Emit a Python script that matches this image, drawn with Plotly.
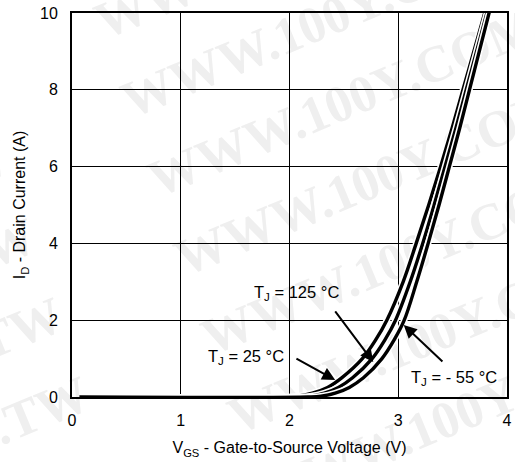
import math
import plotly.graph_objects as go

# Drain current levels (A) and the gate-source voltage (V) at each level
id_amps = [0, 0, 0.02, 0.1, 0.25, 0.5, 1.0, 1.5, 2.0, 3.0, 4.0, 5.0, 6.0, 7.0, 8.0, 9.0, 10.0, 10.5]
vgs_125 = [0.07, 1.95, 2.07, 2.21, 2.35, 2.48, 2.67, 2.795, 2.895, 3.045, 3.165, 3.28, 3.39, 3.495, 3.595, 3.695, 3.795, 3.845]
vgs_25 = [0.07, 2.07, 2.19, 2.32, 2.45, 2.58, 2.76, 2.88, 2.975, 3.11, 3.225, 3.33, 3.43, 3.53, 3.625, 3.72, 3.815, 3.86]
vgs_m55 = [0.07, 2.17, 2.29, 2.42, 2.55, 2.68, 2.85, 2.965, 3.055, 3.17, 3.275, 3.375, 3.47, 3.565, 3.655, 3.745, 3.835, 3.88]

x_ticks = [0, 1, 2, 3, 4]
y_ticks = [0, 2, 4, 6, 8, 10]

# Curve labels: text position, arrow tail and arrow tip (V, A)
labels = ["T<sub>J</sub> = 125 °C", "T<sub>J</sub> = 25 °C", "T<sub>J</sub> = - 55 °C"]
label_x = [2.06, 1.6, 3.51]
label_y = [2.72, 1.05, 0.5]
tail_x = [2.41, 2.05, 3.42]
tail_y = [2.27, 1.02, 0.89]
tip_x = [2.77, 2.42, 3.05]
tip_y = [0.91, 0.44, 1.875]

FONT = "Liberation Sans, Arial, Helvetica, sans-serif"
W, H = 515, 462
ML, MR, MT, MB = 72, 3, 13, 65

fig = go.Figure()

for vgs in (vgs_125, vgs_25, vgs_m55):
    # white halo keeps the three neighbouring curves visually separate
    fig.add_trace(go.Scatter(x=vgs, y=id_amps, mode="lines",
                             line=dict(color="white", width=6.5, shape="spline", smoothing=1.0),
                             hoverinfo="skip", showlegend=False))
    fig.add_trace(go.Scatter(x=vgs, y=id_amps, mode="lines",
                             line=dict(color="black", width=3.4, shape="spline", smoothing=1.0),
                             showlegend=False))

annotations = []
for t, lx, ly in zip(labels, label_x, label_y):
    annotations.append(dict(x=lx, y=ly, xref="x", yref="y", text=t, showarrow=False,
                            font=dict(family=FONT, size=16.5, color="black"),
                            xanchor="center", yanchor="middle"))
for ax_, ay_, x_, y_ in zip(tail_x, tail_y, tip_x, tip_y):
    annotations.append(dict(x=x_, y=y_, ax=ax_, ay=ay_, xref="x", yref="y",
                            axref="x", ayref="y", text="", showarrow=True,
                            arrowhead=2, arrowsize=1.3, arrowwidth=2, arrowcolor="black"))

# light diagonal site watermark behind the plot
pw, ph = W - ML - MR, H - MT - MB
deg = 22.5
ang = math.radians(deg)
span = 513
shapes = []
for k in range(-3, 8):
    sx = 137 + 27 * (k - 1)
    sy = 123 + 79 * (k - 1)
    for n in range(-2, 2):
        x0 = sx + n * 600
        y0 = sy - n * 600 * math.tan(ang)
        x1 = x0 + span * math.cos(ang)
        y1 = y0 - span * math.sin(ang)
        if max(x0, x1) < 0 or min(x0, x1) > W or max(y0, y1) < 0 or min(y0, y1) > H:
            continue
        shapes.append(dict(type="line", xref="paper", yref="paper",
                           x0=(x0 - ML) / pw, y0=(H - MB - y0) / ph,
                           x1=(x1 - ML) / pw, y1=(H - MB - y1) / ph,
                           line=dict(color="rgba(0,0,0,0)", width=0), layer="below",
                           label=dict(text="WWW.100Y.COM.TW", textposition="middle",
                                      textangle=-deg, yanchor="bottom", padding=0,
                                      font=dict(family="Liberation Serif, Times New Roman, serif",
                                                size=52, color="#efefef", weight="bold"))))

fig.update_layout(
    width=W, height=H,
    margin=dict(l=ML, r=MR, t=MT, b=MB),
    paper_bgcolor="white", plot_bgcolor="white",
    font=dict(family=FONT, size=16, color="black"),
    annotations=annotations,
    shapes=shapes,
)
fig.update_xaxes(range=[0, 4], tickvals=x_ticks, ticktext=[str(v) for v in x_ticks],
                 showgrid=True, gridcolor="black", gridwidth=1.2, zeroline=False,
                 showline=True, linecolor="black", linewidth=2, mirror=True,
                 ticks="", ticklabelstandoff=8,
                 title=dict(text="V<sub>GS</sub> - Gate-to-Source Voltage (V)",
                            font=dict(family=FONT, size=16), standoff=14))
fig.update_yaxes(range=[0, 10], tickvals=y_ticks, ticktext=[str(v) for v in y_ticks],
                 showgrid=True, gridcolor="black", gridwidth=1.2, zeroline=False,
                 showline=True, linecolor="black", linewidth=2, mirror=True,
                 ticks="", ticklabelstandoff=9,
                 title=dict(text="I<sub>D</sub> - Drain Current (A)",
                            font=dict(family=FONT, size=16), standoff=10))

fig.write_html("out.html")
